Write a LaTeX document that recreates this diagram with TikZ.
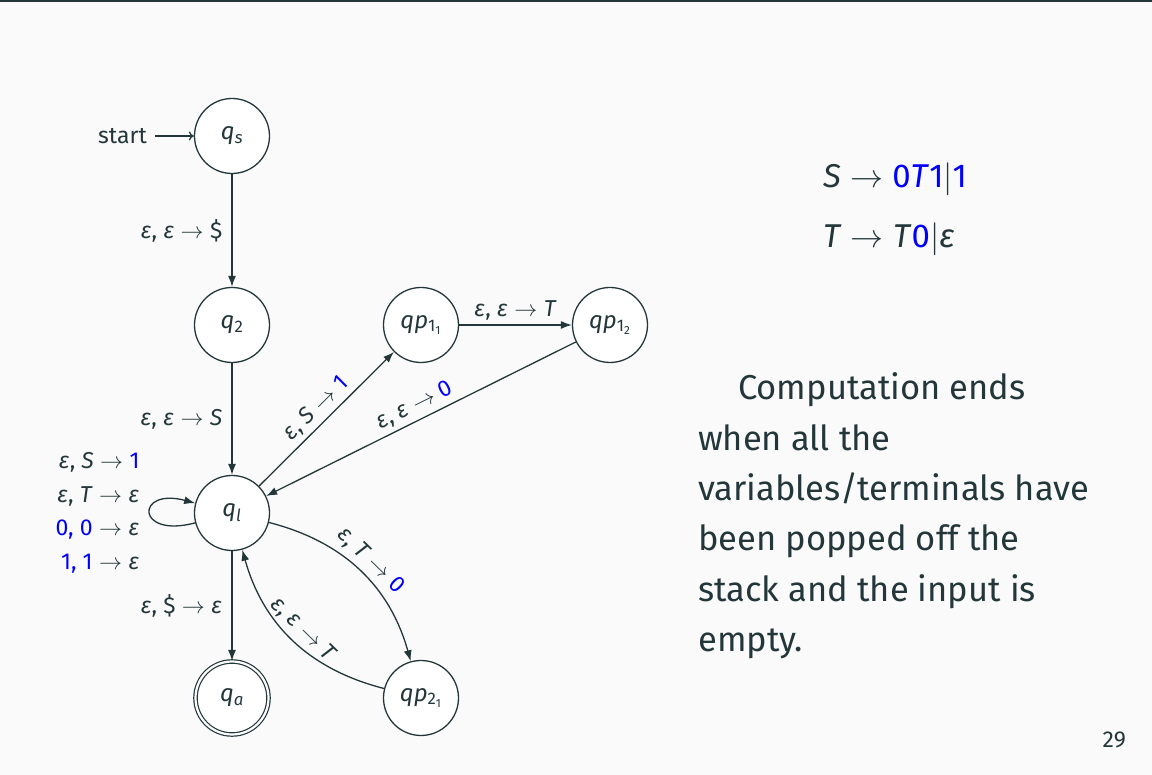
\RequirePackage{fix-cm}
\documentclass[tikz,border=0pt]{standalone}
\usepackage{fontspec}
\setmainfont{Fira Sans}
\usetikzlibrary{arrows.meta}
\definecolor{fg}{HTML}{23373B}
\definecolor{bg}{HTML}{FAFAFA}
\definecolor{bl}{HTML}{0000FF}
\newcommand\ep{\textit{ε}}
\newcommand\ra{\ensuremath{\;\rightarrow\;}}
\newcommand\bb[1]{{\color{bl}#1}}
\tikzset{
  state/.style={circle,draw=fg,fill=white,line width=1.3pt,minimum size=75pt,inner sep=0pt,
    font=\fontsize{24}{28}\selectfont,text=fg},
  acc/.style={state,double=white,double distance=2.2pt,line width=1.2pt,minimum size=73pt},
  tr/.style={draw=fg,line width=1.3pt,-{Latex[length=11pt,width=8pt]}},
  lab/.style={font=\fontsize{23}{27}\selectfont,text=fg,inner sep=4pt},
  body/.style={font=\fontsize{34.5}{50}\selectfont,text=fg,anchor=base west,inner sep=0pt},
  gram/.style={font=\fontsize{33}{40}\selectfont,text=fg,anchor=base west,inner sep=0pt},
}
\begin{document}
\begin{tikzpicture}[x=1pt,y=1pt]
\fill[bg] (0,0) rectangle (1152,775);
\fill[fg] (0,773) rectangle (1152,775);
\useasboundingbox (0,0) rectangle (1152,775);

\node[state] (qs) at (232,639) {\textit{q}\textsubscript{\textit{s}}};
\node[state] (q2) at (232,450) {\textit{q}\textsubscript{2}};
\node[state] (qp11) at (421,450) {\textit{qp}\textsubscript{1\textsubscript{1}}};
\node[state] (qp12) at (610,450) {\textit{qp}\textsubscript{1\textsubscript{2}}};
\node[state] (ql) at (232,262) {\textit{q}\textsubscript{\textit{l}}};
\node[acc] (qa) at (232,77) {\textit{q}\textsubscript{\textit{a}}};
\node[state] (qp21) at (421,77) {\textit{qp}\textsubscript{2\textsubscript{1}}};

\node[lab,anchor=east,inner sep=0pt] (start) at (147,639) {start};
\draw[tr,-{To[length=5pt,width=9pt]}] (start.east) ++(8,0) coordinate (st) (st) -- (qs);

\draw[tr] (qs) -- node[lab,left=5pt] {\ep, \ep\ra\$} (q2);
\draw[tr] (q2) -- node[lab,left=5pt] {\ep, \ep\ra\textit{S}} (ql);
\draw[tr] (ql) -- node[lab,left=5pt] {\ep, \$\ra\ep} (qa);
\draw[tr] (qp11) -- node[lab,above] {\ep, \ep\ra\textit{T}} (qp12);
\draw[tr] (ql) -- node[lab,sloped,above] {\ep, \textit{S}\ra\bb{1}} (qp11);
\draw[tr] (qp12) -- node[lab,sloped,above] {\ep, \ep\ra\bb{0}} (ql);
\draw[tr] (ql) to[bend left=30] node[lab,sloped,above] {\ep, \textit{T}\ra\bb{0}} (qp21);
\draw[tr] (qp21) to[bend left=30] node[lab,sloped,above] {\ep, \ep\ra\textit{T}} (ql);
\draw[tr] (ql.195) .. controls +(195:62) and +(165:62) .. node[lab,left=6pt,align=right,
  font=\fontsize{23}{33.7}\selectfont] {\ep, \textit{S}\ra\bb{1}\\ \ep, \textit{T}\ra\ep\\ \bb{0, 0}\ra\ep\\ \bb{1, 1}\ra\ep} (ql.165);

\node[gram] (g1) at (823,587) {\textit{S}\ra\bb{0\textit{T}1}$|$\bb{1}};
\node[gram] (g2) at (823,527) {\textit{T}\ra\textit{T}\bb{0}$|$\ep};

\node[body] (t1) at (738,375) {Computation ends};
\node[body] (t2) at (698,324.5) {when all the};
\node[body] (t3) at (698,274) {variables/terminals have};
\node[body] (t4) at (698,224) {been popped off the};
\node[body] (t5) at (698,173.5) {stack and the input is};
\node[body] (t6) at (698,123.5) {empty.};

\node[font=\fontsize{23}{27}\selectfont,text=fg,anchor=base east,inner sep=0pt] (pg) at (1126,27) {29};
\end{tikzpicture}
\end{document}
